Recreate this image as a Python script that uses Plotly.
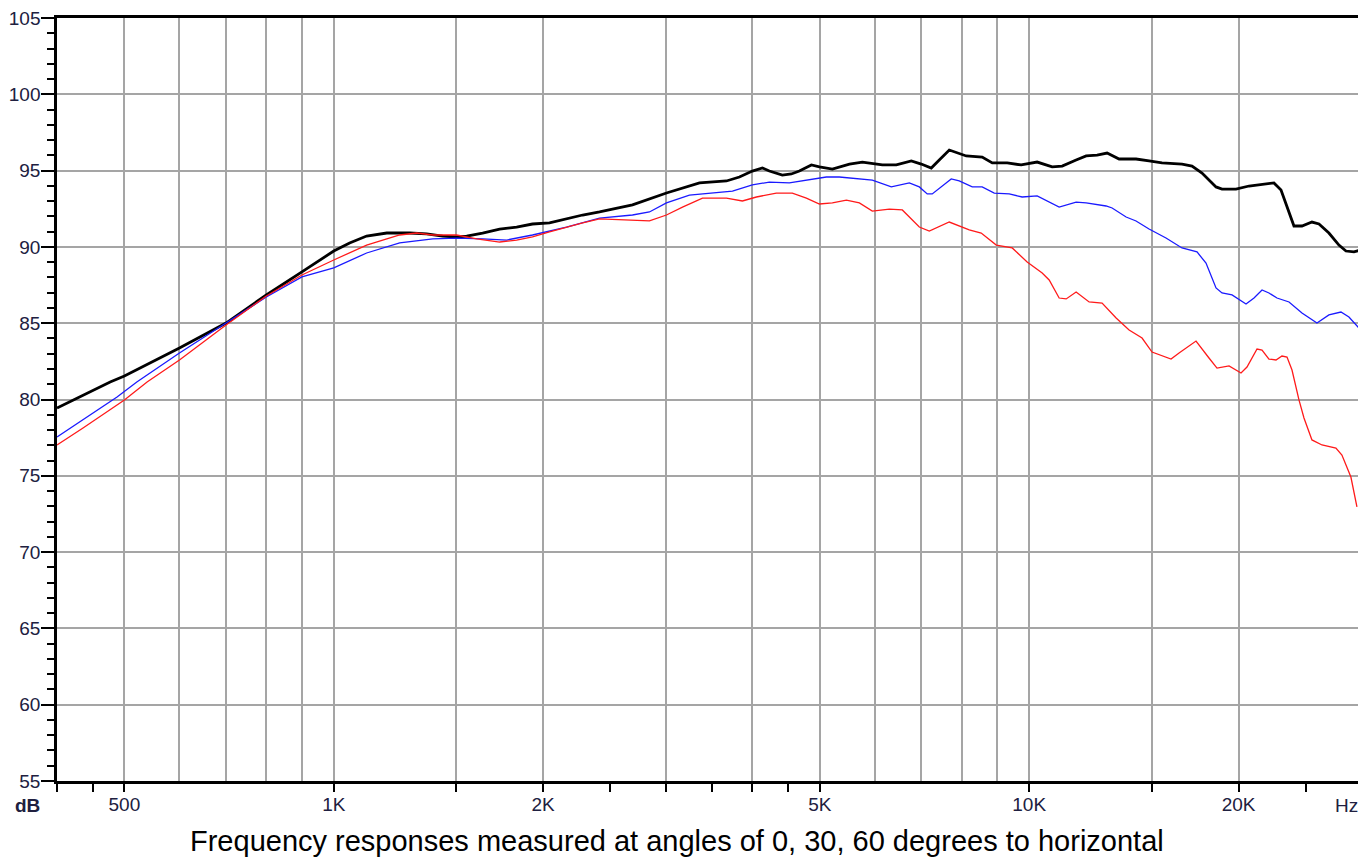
import plotly.graph_objects as go

# ---- data (Hz, dB) ----
freq_0deg = [400, 436, 477, 500, 600, 700, 800, 900, 945, 1000, 1054, 1115, 1192, 1286, 1360, 1434,
             1502, 1553, 1637, 1732, 1832, 1931, 2043, 2161, 2280, 2411, 2689, 3009, 3357, 3670,
             3831, 3999, 4134, 4230, 4416, 4550, 4672, 4862, 4993, 5212, 5515, 5756, 6150, 6441,
             6769, 6995, 7231, 7425, 7675, 8119, 8559, 8849, 9298, 9739, 10268, 10790, 11154,
             11681, 12075, 12521, 12943, 13468, 14245, 14871, 15524, 16588, 17145, 17722, 18563,
             18935, 19832, 20706, 21617, 22490, 23020, 23481, 24029, 24674, 25503, 26104, 26977,
             27885, 28540, 29307, 30000]
db_0deg = [79.44, 80.29, 81.15, 81.54, 83.37, 85.01, 86.85, 88.36, 89.01, 89.73, 90.26, 90.71, 90.91,
           90.91, 90.85, 90.71, 90.65, 90.71, 90.91, 91.17, 91.30, 91.50, 91.57, 91.83, 92.09, 92.29,
           92.75, 93.53, 94.19, 94.32, 94.58, 94.97, 95.17, 94.97, 94.71, 94.78, 94.97, 95.37, 95.24,
           95.10, 95.43, 95.56, 95.37, 95.37, 95.63, 95.43, 95.17, 95.69, 96.35, 95.96, 95.89, 95.50,
           95.50, 95.37, 95.56, 95.24, 95.30, 95.69, 95.96, 96.02, 96.15, 95.76, 95.76, 95.63, 95.50,
           95.43, 95.30, 94.84, 93.93, 93.79, 93.79, 93.99, 94.12, 94.19, 93.73, 92.61, 91.37, 91.37,
           91.63, 91.50, 90.91, 90.12, 89.73, 89.67, 89.80]

freq_30deg = [400, 436, 488, 521, 600, 700, 800, 900, 1000, 1115, 1244, 1388, 1502, 1637, 1773, 1931,
              2161, 2411, 2689, 2844, 3009, 3247, 3469, 3744, 3999, 4230, 4520, 4782, 5109, 5333,
              5949, 6335, 6724, 6950, 7135, 7254, 7725, 7932, 8282, 8559, 8908, 9360, 9770, 10268,
              10684, 11043, 11681, 12075, 12899, 13160, 13784, 14245, 14871, 15730, 16588, 17432,
              17957, 18563, 18935, 19574, 20501, 21052, 21617, 22120, 22714, 23638, 24674, 25930,
              26977, 28072, 28825, 29790]
db_30deg = [77.54, 78.66, 80.16, 81.15, 83.05, 85.01, 86.72, 88.03, 88.62, 89.60, 90.26, 90.52, 90.58,
            90.52, 90.45, 90.78, 91.30, 91.89, 92.09, 92.29, 92.88, 93.40, 93.53, 93.66, 94.06, 94.25,
            94.19, 94.38, 94.58, 94.58, 94.38, 93.93, 94.19, 93.93, 93.47, 93.47, 94.45, 94.32, 93.93,
            93.93, 93.53, 93.47, 93.27, 93.34, 92.94, 92.61, 92.94, 92.88, 92.68, 92.55, 91.96, 91.70,
            91.17, 90.58, 89.93, 89.67, 88.94, 87.31, 86.98, 86.85, 86.26, 86.65, 87.18, 86.98, 86.65,
            86.39, 85.67, 85.01, 85.54, 85.73, 85.41, 84.69]

freq_60deg = [400, 436, 500, 539, 600, 700, 800, 900, 1000, 1115, 1244, 1316, 1388, 1502, 1605, 1732,
              1832, 1931, 2043, 2161, 2280, 2411, 2576, 2844, 3009, 3173, 3390, 3670, 3869, 4053,
              4329, 4565, 4782, 4993, 5212, 5460, 5699, 5949, 6294, 6570, 6950, 7183, 7675, 8200,
              8531, 8968, 9454, 9933, 10440, 10684, 11043, 11303, 11681, 12195, 12730, 13335, 13921,
              14531, 15019, 15730, 15995, 16425, 17374, 18136, 18624, 19381, 20164, 20568, 21262,
              21617, 22120, 22641, 23094, 23481, 23873, 24430, 24839, 25503, 26364, 27610, 28163,
              29013, 29599]
db_60deg = [77.02, 78.13, 79.97, 81.15, 82.59, 84.88, 86.78, 88.16, 89.14, 90.12, 90.78, 90.91, 90.78,
            90.78, 90.52, 90.32, 90.45, 90.65, 90.98, 91.30, 91.57, 91.83, 91.76, 91.70, 92.09, 92.61,
            93.20, 93.20, 93.01, 93.27, 93.53, 93.53, 93.20, 92.81, 92.88, 93.07, 92.88, 92.35, 92.48,
            92.42, 91.30, 91.04, 91.63, 91.11, 90.91, 90.12, 89.93, 89.01, 88.29, 87.83, 86.65, 86.59,
            87.04, 86.39, 86.32, 85.34, 84.55, 84.03, 83.11, 82.79, 82.65, 83.05, 83.83, 82.72, 82.06,
            82.20, 81.74, 82.13, 83.31, 83.24, 82.65, 82.59, 82.85, 82.78, 81.93, 79.97, 78.79, 77.35,
            77.02, 76.82, 76.36, 74.92, 72.96]

grid_freqs = [500, 600, 700, 800, 900, 1000, 1500, 2000, 3000, 4000, 5000, 6000, 7000, 8000, 9000,
              10000, 15000, 20000]
grid_labels = ["500", "", "", "", "", "1K", "", "2K", "", "", "5K", "", "", "", "", "10K", "", "20K"]
tick_freqs = [400, 450, 500, 1000, 1500, 2000, 2500, 3000, 3500, 4000, 4500, 5000, 10000, 15000,
              20000, 25000]
y_ticks = [55, 60, 65, 70, 75, 80, 85, 90, 95, 100, 105]

caption = "Frequency responses measured at angles of 0, 30, 60 degrees to horizontal"

FONT = "Liberation Sans, Arial, sans-serif"
LABEL_COLOR = "#202040"

fig = go.Figure()
fig.add_trace(go.Scatter(x=freq_0deg, y=db_0deg, mode="lines", line=dict(color="#000000", width=2.8),
                         name="0°"))
fig.add_trace(go.Scatter(x=freq_30deg, y=db_30deg, mode="lines", line=dict(color="#1a1aff", width=1.3),
                         name="30°"))
fig.add_trace(go.Scatter(x=freq_60deg, y=db_60deg, mode="lines", line=dict(color="#ff1a1a", width=1.3),
                         name="60°"))

# page body has an 8px default margin, so the figure is offset by 8px
fig.update_layout(
    width=1358, height=849,
    margin=dict(l=49, r=5, t=10, b=76, autoexpand=False),
    paper_bgcolor="white", plot_bgcolor="white",
    showlegend=False,
    font=dict(family=FONT, size=19, color=LABEL_COLOR),
)

fig.update_xaxes(
    type="log", range=[2.60206, 4.47712], automargin=False,
    tickmode="array", tickvals=grid_freqs, ticktext=grid_labels,
    ticks="", showgrid=True, gridcolor="#a5a5a5", gridwidth=1.5,
    showline=True, linecolor="black", linewidth=2.5, mirror=True,
    tickfont=dict(family=FONT, size=19, color=LABEL_COLOR),
    ticklabelstandoff=4,
    minor=dict(tickmode="array", tickvals=tick_freqs, ticks="outside", ticklen=8,
               tickwidth=1.5, tickcolor="black", showgrid=False),
    zeroline=False,
)
fig.update_yaxes(
    range=[55, 105], automargin=False,
    tickmode="array", tickvals=y_ticks,
    ticks="outside", ticklen=13, tickwidth=1.5, tickcolor="black",
    showgrid=True, gridcolor="#a5a5a5", gridwidth=1.5,
    showline=True, linecolor="black", linewidth=2.5, mirror=True,
    tickfont=dict(family=FONT, size=19, color=LABEL_COLOR),
    ticklabelstandoff=-3, ticklabeloverflow="allow",
    minor=dict(dtick=1, ticks="outside", ticklen=7, tickwidth=1.5, tickcolor="black", showgrid=False),
    zeroline=False,
)

fig.add_annotation(text="<b>dB</b>", xref="paper", yref="paper", x=-0.023, y=-0.0315,
                   xanchor="center", yanchor="middle", showarrow=False,
                   font=dict(family=FONT, size=19, color=LABEL_COLOR))
fig.add_annotation(text="Hz", xref="paper", yref="paper", x=0.9885, y=-0.0315,
                   xanchor="center", yanchor="middle", showarrow=False,
                   font=dict(family=FONT, size=19, color=LABEL_COLOR))
fig.add_annotation(text=caption, xref="paper", yref="paper", x=0.4755, y=-0.0786,
                   xanchor="center", yanchor="middle", showarrow=False,
                   font=dict(family=FONT, size=29, color="black"))

fig.write_html("out.html")
